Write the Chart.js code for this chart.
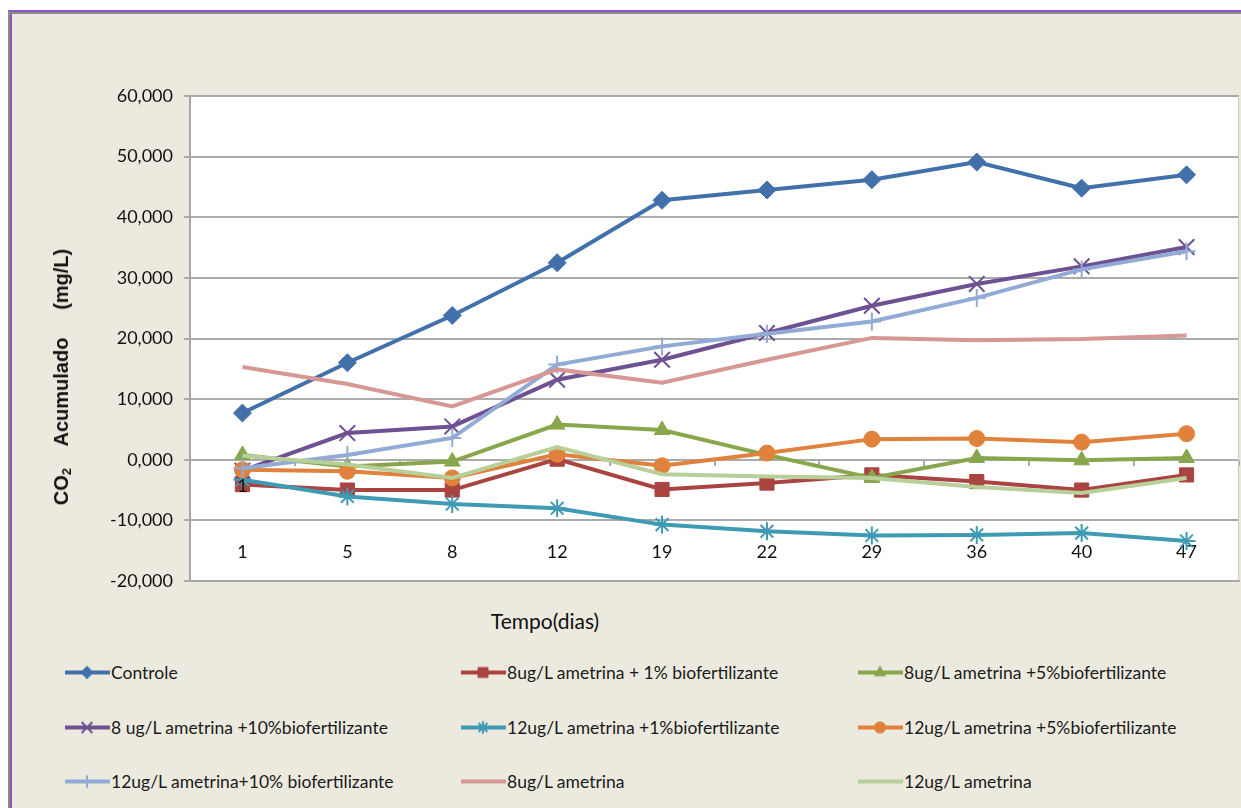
<!DOCTYPE html>
<html>
<head>
<meta charset="utf-8">
<script src="https://cdn.jsdelivr.net/npm/chart.js@4/dist/chart.umd.min.js"></script>
<style>
  body { margin: 0; background: #fff; width: 1241px; height: 808px; overflow: hidden; position: relative; font-family: Lato, sans-serif; }
  .frame { position: absolute; left: 8px; top: 10px; width: 1260px; height: 820px; background: #ECEADF;
           border-top: 2px solid #9052C8; border-left: 2px solid #8A8A8A;
           box-shadow: inset 0 2px 0 #8A8A8A, inset 2px 0 0 #9052C8; }
  #chart { position: absolute; left: 0; top: 0; }
  .ytitle { position: absolute; left: 62px; top: 377px; transform: translate(-50%, -50%) rotate(-90deg);
            font: bold 20px "Liberation Sans", Arial, sans-serif; color: #111; white-space: pre; }
  .ytitle sub { font-size: 13px; vertical-align: -3px; }
  .xtitle { position: absolute; left: 545px; top: 620px; transform: translate(-50%, -50%);
            font-size: 21px; color: #111; white-space: nowrap; }
  .legend-item { position: absolute; display: flex; align-items: center; transform: translateY(-50%);
                 font-size: 17.5px; color: #1a1a1a; white-space: pre; }
  .legend-item canvas { margin-right: 1px; }
</style>
</head>
<body>
<div class="frame"></div>
<canvas id="chart" width="1241" height="600"></canvas>
<div class="ytitle">CO<sub>2</sub>    Acumulado     (mg/L)</div>
<div class="xtitle">Tempo(dias)</div>
<div id="legend"></div>
<script>
// dias de coleta
const days = ['1', '5', '8', '12', '19', '22', '29', '36', '40', '47'];

// CO2 acumulado (mg/L)
const controle    = [7.7, 16.0, 23.8, 32.5, 42.8, 44.5, 46.2, 49.1, 44.8, 47.0];
const amet8bio1   = [-4.1, -5.0, -5.0, 0.1, -4.9, -3.85, -2.5, -3.6, -5.0, -2.5];
const amet8bio5   = [0.8, -1.1, -0.3, 5.8, 4.9, 0.8, -3.0, 0.3, -0.1, 0.3];
const amet8bio10  = [-1.8, 4.4, 5.5, 13.2, 16.5, 20.9, 25.4, 29.0, 31.9, 35.1];
const amet12bio1  = [-3.3, -6.05, -7.3, -8.0, -10.7, -11.8, -12.5, -12.4, -12.1, -13.4];
const amet12bio5  = [-1.65, -1.9, -3.0, 0.9, -1.0, 1.1, 3.4, 3.5, 2.9, 4.3];
const amet12bio10 = [-1.4, 0.8, 3.6, 15.7, 18.7, 20.8, 22.8, 26.7, 31.4, 34.4];
const amet8       = [15.3, 12.5, 8.8, 14.9, 12.7, 16.5, 20.1, 19.7, 19.9, 20.5];
const amet12      = [0.65, -0.8, -3.0, 2.1, -2.4, -2.75, -3.0, -4.5, -5.5, -3.0];

const seriesNames = [
  'Controle',
  '8ug/L ametrina + 1% biofertilizante',
  '8ug/L ametrina +5%biofertilizante',
  '8 ug/L ametrina +10%biofertilizante',
  '12ug/L ametrina +1%biofertilizante',
  '12ug/L ametrina +5%biofertilizante',
  '12ug/L ametrina+10% biofertilizante',
  '8ug/L ametrina',
  '12ug/L ametrina'
];
const seriesData = [controle, amet8bio1, amet8bio5, amet8bio10, amet12bio1, amet12bio5, amet12bio10, amet8, amet12];
const colors = ['#4170AA', '#AA4441', '#88A64B', '#6E5193', '#3F9AB4', '#E0823C', '#92AAD6', '#D69795', '#B7CF98'];
const markers = [
  { style: 'rectRot', r: 9, bw: 1 },
  { style: 'rect', r: 10, bw: 1 },
  { style: 'triangle', r: 9, bw: 1 },
  { style: 'crossRot', r: 11, bw: 2 },
  { style: 'star', r: 9, bw: 2 },
  { style: 'circle', r: 8, bw: 1 },
  { style: 'cross', r: 9, bw: 2 },
  { style: 'circle', r: 0, bw: 0 },
  { style: 'circle', r: 0, bw: 0 }
];

const datasets = seriesNames.map((name, i) => ({
  label: name,
  data: seriesData[i],
  borderColor: colors[i],
  backgroundColor: colors[i],
  borderWidth: 4,
  pointStyle: markers[i].style,
  pointRadius: markers[i].r,
  pointBorderWidth: markers[i].bw,
  pointBackgroundColor: colors[i],
  pointBorderColor: colors[i],
  tension: 0,
  fill: false,
  order: 9 - i,
  xAxisID: 'x',
  yAxisID: 'y'
}));

const plotBg = {
  id: 'plotBg',
  beforeDraw(c) {
    const a = c.chartArea;
    const ctx = c.ctx;
    ctx.save();
    ctx.fillStyle = '#fff';
    ctx.fillRect(a.left, a.top, a.right - a.left, a.bottom - a.top);
    ctx.restore();
  },
  afterDraw(c) {
    // thin right edge of the plot area
    const a = c.chartArea;
    const ctx = c.ctx;
    ctx.save();
    ctx.strokeStyle = '#C8C8C8';
    ctx.lineWidth = 1;
    ctx.beginPath();
    ctx.moveTo(a.right - 0.5, a.top);
    ctx.lineTo(a.right - 0.5, a.bottom);
    ctx.stroke();
    ctx.restore();
  }
};

// stray "1" that sits on the first point of the red series in the original
const strayLabel = {
  id: 'strayLabel',
  afterDatasetsDraw(c) {
    const p = c.getDatasetMeta(1).data[0];
    const ctx = c.ctx;
    ctx.save();
    ctx.font = '18px Lato';
    ctx.fillStyle = '#111';
    ctx.textAlign = 'center';
    ctx.textBaseline = 'middle';
    ctx.fillText('1', p.x, p.y + 2);
    ctx.restore();
  }
};

// the plot box is fixed, so drop the label overhang padding chart.js adds
const noPad = s => { s.paddingLeft = s.paddingRight = s.paddingTop = s.paddingBottom = 0; };

const gridGray = '#ABABAB';

const chart = new Chart(document.getElementById('chart'), {
  type: 'line',
  data: { labels: days, datasets: datasets },
  options: {
    responsive: false,
    animation: false,
    layout: { autoPadding: false, padding: { left: 0, right: 2, top: 96, bottom: 0 } },
    plugins: { legend: { display: false }, tooltip: { enabled: false } },
    scales: {
      x: {
        type: 'category',
        offset: true,
        grid: { display: false, drawTicks: false, tickLength: 0 },
        border: { display: true, color: '#A6A6A6', width: 2 },
        ticks: { mirror: true, padding: 18, color: '#111', font: { family: 'Lato', size: 18 }, maxRotation: 0, autoSkip: false },
        afterFit: s => { s.height = 19; noPad(s); }
      },
      xz: {
        type: 'category',
        position: { y: 0 },
        offset: true,
        grid: { offset: true, drawOnChartArea: false, drawTicks: true, tickLength: 6, color: gridGray, lineWidth: 2 },
        ticks: { display: false },
        border: { display: false },
        afterFit: s => { noPad(s); }
      },
      y: {
        min: -20,
        max: 60,
        ticks: {
          stepSize: 10,
          padding: 11,
          color: '#111',
          font: { family: 'Lato', size: 18 },
          callback: v => v.toFixed(3).replace('.', ',')
        },
        grid: { color: gridGray, lineWidth: 2, tickLength: 6 },
        border: { color: '#A6A6A6', width: 2 },
        afterFit: s => { s.width = 190; noPad(s); }
      }
    }
  },
  plugins: [plotBg, strayLabel]
});

// legend in a 3x3 grid like the original
const legendCols = [65, 461, 858];
const legendRows = [672, 727, 781];
const legendEl = document.getElementById('legend');
chart.data.datasets.forEach((ds, i) => {
  const item = document.createElement('div');
  item.className = 'legend-item';
  item.style.left = legendCols[i % 3] + 'px';
  item.style.top = legendRows[Math.floor(i / 3)] + 'px';

  const sw = document.createElement('canvas');
  sw.width = 45;
  sw.height = 20;
  const g = sw.getContext('2d');
  g.strokeStyle = ds.borderColor;
  g.lineWidth = 4;
  g.beginPath();
  g.moveTo(0, 10);
  g.lineTo(45, 10);
  g.stroke();
  if (ds.pointRadius) {
    g.fillStyle = ds.pointBackgroundColor;
    g.strokeStyle = ds.pointBorderColor;
    g.lineWidth = ds.pointBorderWidth;
    Chart.helpers.drawPoint(g, { pointStyle: ds.pointStyle, radius: ds.pointRadius * 0.7, borderWidth: ds.pointBorderWidth, rotation: 0 }, 22, 10);
  }
  item.appendChild(sw);

  const txt = document.createElement('span');
  txt.textContent = ds.label;
  item.appendChild(txt);
  legendEl.appendChild(item);
});
</script>
</body>
</html>
